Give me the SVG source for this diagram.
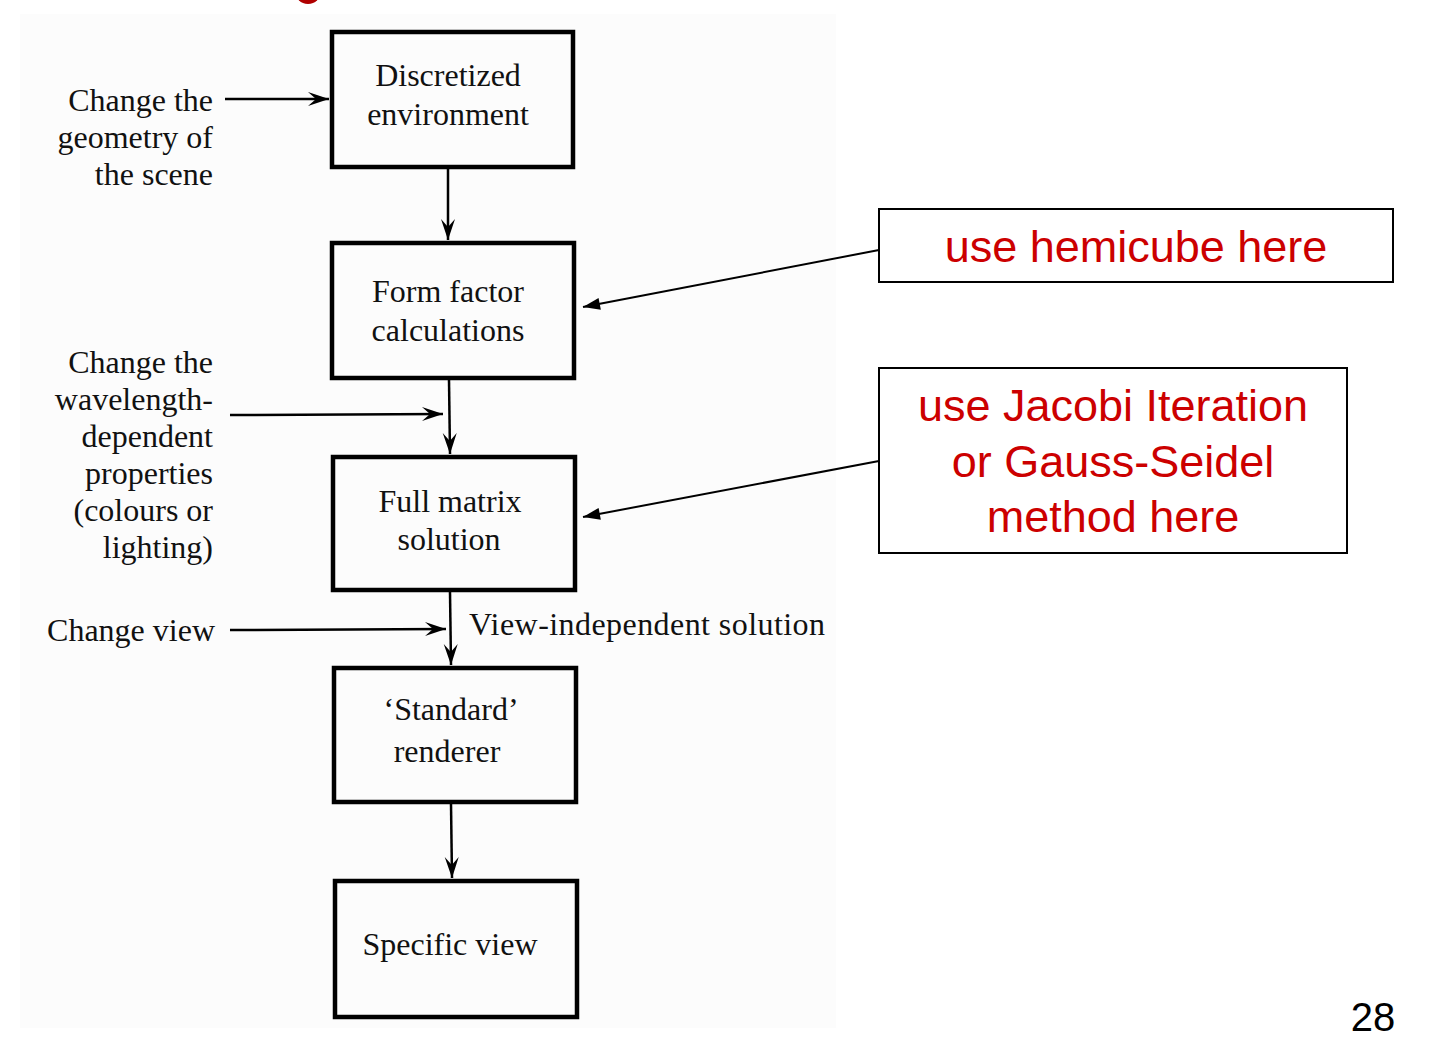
<svg xmlns="http://www.w3.org/2000/svg" width="1437" height="1057" viewBox="0 0 1437 1057">
<style>
.box{fill:none;stroke:#000;stroke-width:4.5}
.serif{font-family:"Liberation Serif","Times New Roman",serif;font-size:32px;fill:#111}
.mid{text-anchor:middle}
.end{text-anchor:end}
.ln{stroke:#000;stroke-width:2.5;fill:none}
.cbox{fill:#fff;stroke:#000;stroke-width:2}
.red{font-family:"Liberation Sans",Arial,sans-serif;font-size:45px;fill:#cc0000;text-anchor:middle}
.cl{stroke:#000;stroke-width:2;fill:none}
</style>
<defs>
<marker id="barb" viewBox="-22 -8 23 16" refX="0" refY="0" markerWidth="23" markerHeight="16" markerUnits="userSpaceOnUse" orient="auto">
<path d="M0,0 L-21,-7 L-13,0 L-21,7 Z" fill="#000"/>
</marker>
<marker id="tri" viewBox="-18 -7 19 14" refX="0" refY="0" markerWidth="19" markerHeight="14" markerUnits="userSpaceOnUse" orient="auto">
<path d="M0,0 L-17,-6 L-17,6 Z" fill="#000"/>
</marker>
</defs>
<rect width="1437" height="1057" fill="#fff"/>
<rect x="20" y="14" width="816" height="1014" fill="#fcfcfc"/>
<circle cx="308" cy="-9" r="13" fill="#b00000"/>

<g id="connectors">
<line class="ln" x1="225" y1="99" x2="329" y2="99" marker-end="url(#barb)"/>
<line class="ln" x1="448" y1="169" x2="448" y2="240" marker-end="url(#barb)"/>
<line class="ln" x1="449" y1="380" x2="450" y2="454" marker-end="url(#barb)"/>
<line class="ln" x1="230" y1="415" x2="443" y2="414" marker-end="url(#barb)"/>
<line class="ln" x1="450" y1="592" x2="451" y2="665" marker-end="url(#barb)"/>
<line class="ln" x1="230" y1="630" x2="446" y2="629" marker-end="url(#barb)"/>
<line class="ln" x1="451" y1="804" x2="452" y2="878" marker-end="url(#barb)"/>
<line class="cl" x1="879" y1="250" x2="583" y2="307" marker-end="url(#tri)"/>
<line class="cl" x1="879" y1="461" x2="583" y2="517" marker-end="url(#tri)"/>
</g>

<g id="n-discretized">
<rect class="box" x="332" y="32" width="241" height="135"/>
<text class="serif mid" x="448" y="86">Discretized</text>
<text class="serif mid" x="448" y="125">environment</text>
</g>
<g id="n-formfactor">
<rect class="box" x="332" y="243" width="242" height="135"/>
<text class="serif mid" x="448" y="302">Form factor</text>
<text class="serif mid" x="448" y="341">calculations</text>
</g>
<g id="n-fullmatrix">
<rect class="box" x="333" y="457" width="242" height="133"/>
<text class="serif mid" x="450" y="512">Full matrix</text>
<text class="serif mid" x="449" y="550">solution</text>
</g>
<g id="n-standard">
<rect class="box" x="334" y="668" width="242" height="134"/>
<text class="serif mid" x="451" y="720">‘Standard’</text>
<text class="serif mid" x="447" y="762">renderer</text>
</g>
<g id="n-specific">
<rect class="box" x="335" y="881" width="242" height="136"/>
<text class="serif mid" x="450" y="955">Specific view</text>
</g>

<g id="l-geometry">
<text class="serif end" x="213" y="111">Change the</text>
<text class="serif end" x="213" y="148">geometry of</text>
<text class="serif end" x="213" y="185">the scene</text>
</g>
<g id="l-wavelength">
<text class="serif end" x="213" y="373">Change the</text>
<text class="serif end" x="213" y="410">wavelength-</text>
<text class="serif end" x="213" y="447">dependent</text>
<text class="serif end" x="213" y="484">properties</text>
<text class="serif end" x="213" y="521">(colours or</text>
<text class="serif end" x="213" y="558">lighting)</text>
</g>
<g id="l-view">
<text class="serif end" x="215" y="641">Change view</text>
</g>
<g id="l-viewind">
<text class="serif" x="469" y="635" textLength="356" lengthAdjust="spacing">View-independent solution</text>
</g>

<g id="c-hemicube">
<rect class="cbox" x="879" y="209" width="514" height="73"/>
<text class="red" x="1136" y="262">use hemicube here</text>
</g>
<g id="c-jacobi">
<rect class="cbox" x="879" y="368" width="468" height="185"/>
<text class="red" x="1113" y="421">use Jacobi Iteration</text>
<text class="red" x="1113" y="477">or Gauss-Seidel</text>
<text class="red" x="1113" y="532">method here</text>
</g>
<text x="1373" y="1031" font-family="Liberation Sans,Arial,sans-serif" font-size="40" text-anchor="middle" fill="#000">28</text>
</svg>
